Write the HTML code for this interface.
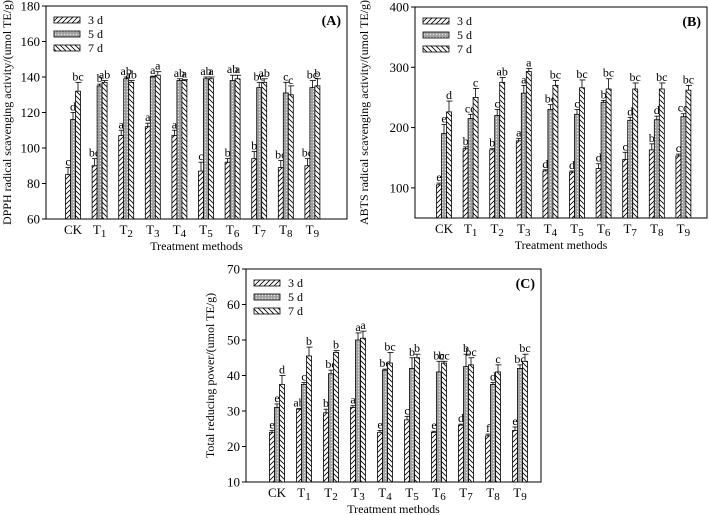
<!DOCTYPE html>
<html><head><meta charset="utf-8">
<style>
html,body{margin:0;padding:0;background:#fff;}
svg{display:block;font-family:"Liberation Serif",serif;}
</style></head>
<body>
<svg id="chart" width="709" height="515" viewBox="0 0 709 515">
<defs>
<pattern id="p3" width="5" height="5" patternUnits="userSpaceOnUse"><rect width="5" height="5" fill="#fff"/><path d="M0,5 L5,0 M-1,1 L1,-1 M4,6 L6,4" stroke="#000" stroke-width="0.8"/></pattern>
<pattern id="p5" width="3" height="3" patternUnits="userSpaceOnUse"><rect width="3" height="3" fill="#a0a0a0"/><circle cx="1.5" cy="1.5" r="0.7" fill="#e8e8e8"/></pattern>
<pattern id="p7" width="5" height="5" patternUnits="userSpaceOnUse"><rect width="5" height="5" fill="#fff"/><path d="M0,0 L5,5 M-1,4 L1,6 M4,-1 L6,1" stroke="#000" stroke-width="0.8"/></pattern>
</defs>
</svg>
<script>
const categories = ["CK","T1","T2","T3","T4","T5","T6","T7","T8","T9"];
const seriesNames = ["3 d","5 d","7 d"];
// Panel A: DPPH
const dpph3 = [85,90,107,112,107,87,92,94,89,90];
const dpph5 = [116,135,139,140,138,139,138,134,131,134];
const dpph7 = [132,137,137,141,138,139,139,137,130,135];
const dpphErr3 = [4,4,3,2,3,5,2,4,4,4];
const dpphErr5 = [4,1,1,0.5,1,1,3,3,6,4];
const dpphErr7 = [5,1,1,2,0.5,1,2,2,5,4];
const dpphLet3 = ["c","bc","a","a","a","c","b","b","bc","bc"];
const dpphLet5 = ["d","b","ab","a","ab","ab","ab","bc","c","bc"];
const dpphLet7 = ["bc","ab","ab","a","a","a","a","ab","c","b"];
const dpphTicks = [60,80,100,120,140,160,180];
// Panel B: ABTS
const abts3 = [105,165,163,178,128,126,132,147,163,153];
const abts5 = [190,215,220,257,230,222,242,212,213,218];
const abts7 = [226,250,275,293,270,266,264,264,264,262];
const abtsErr3 = [3,3,2,4,2,2,8,12,10,3];
const abtsErr5 = [15,7,10,13,8,8,3,5,6,5];
const abtsErr7 = [18,15,8,5,8,13,17,10,10,8];
const abtsLet3 = ["e","b","b","a","d","d","d","c","b","c"];
const abtsLet5 = ["e","cd","c","a","bc","c","b","d","d","cd"];
const abtsLet7 = ["d","c","ab","a","bc","bc","bc","bc","bc","bc"];
const abtsTicks = [100,200,300,400];
// Panel C: Total reducing power
const trp3 = [24,30.5,29.5,31,24,27.5,24,26,23,24.5];
const trp5 = [31,37.5,40.5,50,41.5,42,41,42.5,37.5,42];
const trp7 = [37.5,45.5,46.5,50.5,43.5,45,43.5,43,41,44];
const trpErr3 = [0.5,0.2,1,0.5,0.5,1,0.3,0.3,0.5,1];
const trpErr5 = [1,0.5,1,2,0.3,3,3,3.5,0.5,1];
const trpErr7 = [2.5,2.5,0.5,2,3,1,0.5,2,2,2];
const trpLet3 = ["e","ab","b","a","e","c","e","d","f","e"];
const trpLet5 = ["e","c","bc","a","bc","b","bc","b","d","bc"];
const trpLet7 = ["d","b","b","a","bc","b","bc","bc","c","bc"];
const trpTicks = [10,20,30,40,50,60,70];

const NS="http://www.w3.org/2000/svg";
const svg=document.getElementById("chart");
function mk(tag,attrs,parent){const e=document.createElementNS(NS,tag);for(const k in attrs)e.setAttribute(k,attrs[k]);(parent||svg).appendChild(e);return e;}

function panel(cfg){
  const g=mk("g",{});
  
  
  const {L,T,R,B,min,max,c0,step}=cfg;
  const y=v=>B-(v-min)/(max-min)*(B-T);
  const x=i=>c0+i*step;
  const frame=mk("rect",{x:L,y:T,width:R-L,height:B-T,fill:"none",stroke:"#000","stroke-width":1},g);
  
  
  cfg.ticks.forEach(t=>{
    mk("line",{x1:L-4,x2:L,y1:y(t),y2:y(t),stroke:"#000"},g);
    const tx=mk("text",{x:L-6,y:y(t)+4.5,"text-anchor":"end","font-size":13},g);
    tx.textContent=t;
    
    
  });
  const fills=["url(#p3)","url(#p5)","url(#p7)"];
  const bw=5;
  categories.forEach((c,i)=>{
    cfg.vals.forEach((arr,s)=>{
      const bx=x(i)-7.5+s*bw, v=arr[i], top=y(v);
      const r=mk("rect",{x:bx,y:top,width:bw,height:B-top,fill:fills[s],stroke:"#000","stroke-width":0.8},g);
      
      
      const et=y(v+cfg.errs[s][i]);
      mk("line",{x1:bx+bw/2,x2:bx+bw/2,y1:top,y2:et,stroke:"#000","stroke-width":0.8},g);
      mk("line",{x1:bx,x2:bx+bw+1,y1:et,y2:et,stroke:"#000","stroke-width":0.8},g);
      const lt=mk("text",{x:bx+bw/2,y:et-2,"text-anchor":"middle","font-size":12},g);
      lt.textContent=cfg.lets[s][i];
      
      
    });
    const cl=mk("text",{x:x(i),y:B+15,"text-anchor":"middle","font-size":13},g);
    if(c==="CK"){cl.textContent="CK";}
    else{cl.textContent="T";const sub=mk("tspan",{dy:3,"font-size":11},cl);sub.textContent=c.slice(1);}
    
    
  });
  const xt=mk("text",{x:(L+R)/2,y:B+31,"text-anchor":"middle","font-size":12},g);
  xt.textContent="Treatment methods";
  
  
  const yt=mk("text",{x:0,y:0,"text-anchor":"middle","font-size":12,transform:`translate(${cfg.ytx},${(T+B)/2}) rotate(-90)`},g);
  yt.textContent=cfg.ytitle;
  
  
  const pl=mk("text",{x:R-6,y:T+19,"text-anchor":"end","font-size":14,"font-weight":"bold"},g);
  pl.textContent=cfg.label;
  
  
  seriesNames.forEach((n,s)=>{
    const ly=T+11+s*14;
    const lr=mk("rect",{x:L+8,y:ly,width:26,height:6,fill:fills[s],stroke:"#000","stroke-width":0.8},g);
    
    
    const ltx=mk("text",{x:L+42,y:ly+7,"font-size":12},g);
    ltx.textContent=n;
    
    
  });
}
panel({id:"dpph",L:46,T:6,R:347,B:219,min:60,max:180,c0:73,step:26.6,ticks:dpphTicks,
  vals:[dpph3,dpph5,dpph7],errs:[dpphErr3,dpphErr5,dpphErr7],lets:[dpphLet3,dpphLet5,dpphLet7],
  ytitle:"DPPH radical scavenging activity/(umol TE/g)",ytx:11,label:"(A)"});
panel({id:"abts",L:415,T:7,R:707,B:218,min:50,max:400,c0:444,step:26.6,ticks:abtsTicks,
  vals:[abts3,abts5,abts7],errs:[abtsErr3,abtsErr5,abtsErr7],lets:[abtsLet3,abtsLet5,abtsLet7],
  ytitle:"ABTS radical scavenging activity/(umol TE/g)",ytx:368,label:"(B)"});
panel({id:"trp",L:246,T:269,R:541,B:482,min:10,max:70,c0:277,step:27,ticks:trpTicks,
  vals:[trp3,trp5,trp7],errs:[trpErr3,trpErr5,trpErr7],lets:[trpLet3,trpLet5,trpLet7],
  ytitle:"Total reducing power/(umol TE/g)",ytx:214,label:"(C)"});
</script>
</body></html>
